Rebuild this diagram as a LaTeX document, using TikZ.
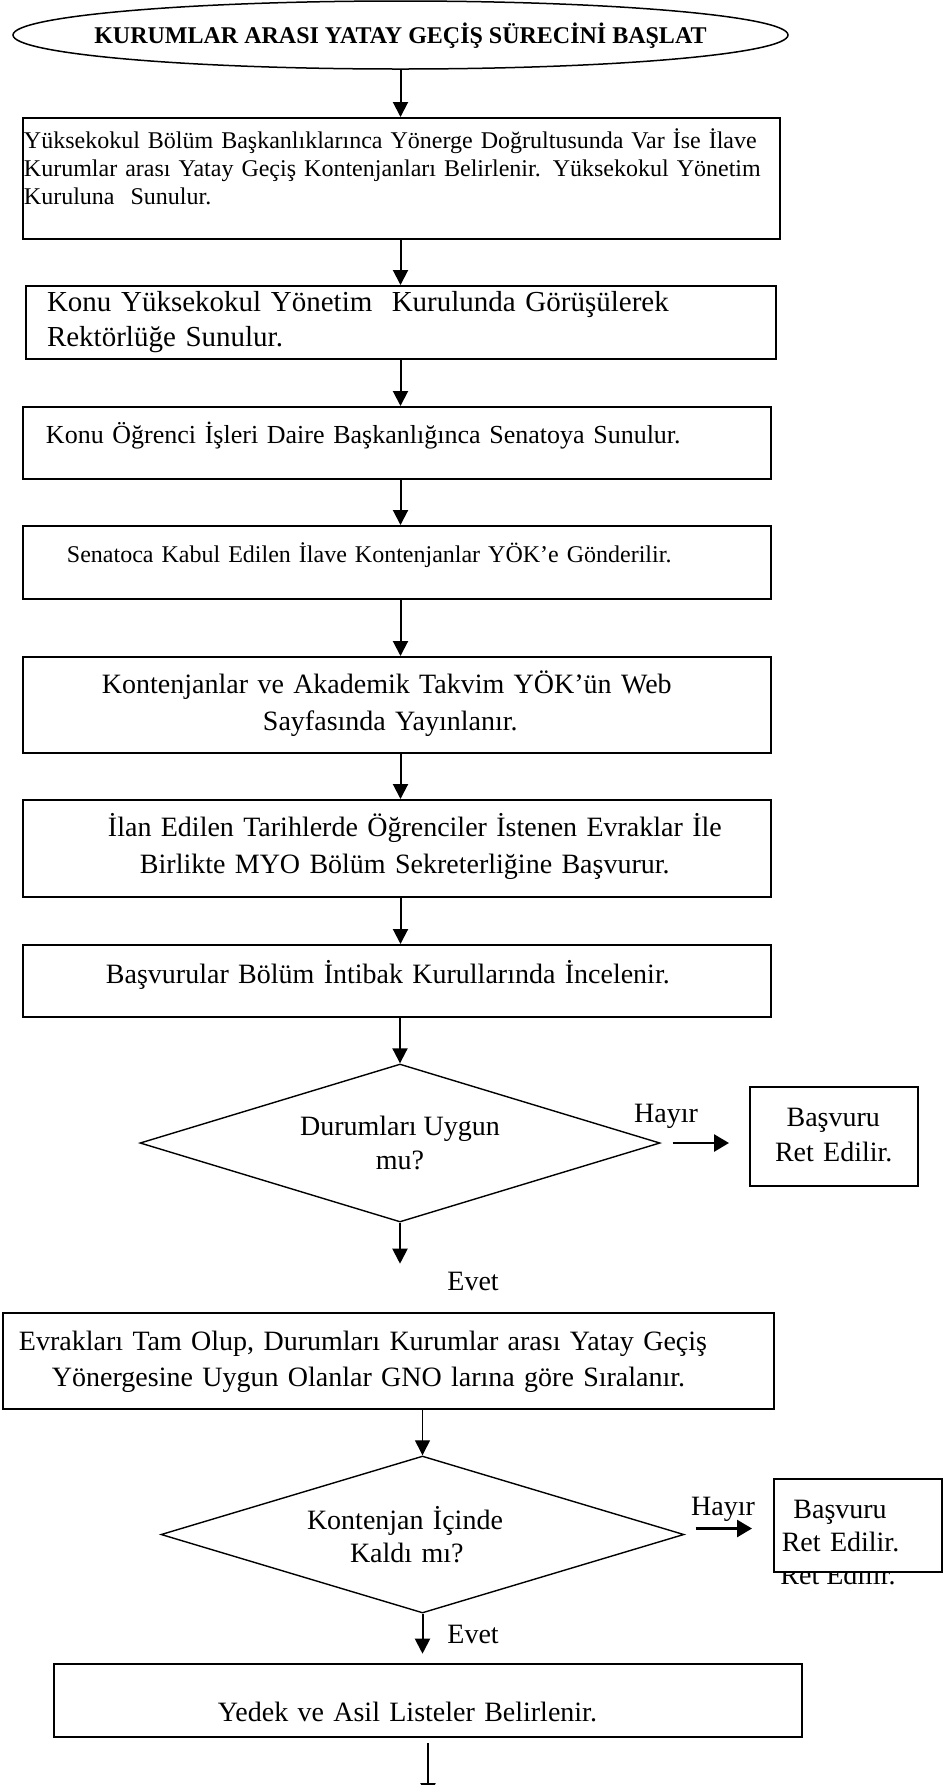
\documentclass[tikz,border=0pt]{standalone}
\usepackage{fontspec}
\setmainfont{Liberation Serif}
\usetikzlibrary{shapes.geometric,arrows.meta,positioning}
\newcommand{\indentby}[1]{\hspace*{#1pt}}
\newcommand{\fs}[2]{\fontsize{#1}{#2}\selectfont}

\begin{document}
\begin{tikzpicture}[x=0.5pt,y=-0.5pt,on grid]

  \tikzset{
    box/.style={draw,rectangle,line width=1pt,inner sep=0pt,align=left,font=\fs{14}{18.5}},
    decision/.style={draw,diamond,aspect=3.3,line width=0.7pt,inner sep=0pt,align=center,font=\fs{14}{17}},
    terminal/.style={draw,ellipse,line width=0.75pt,inner sep=0pt,font=\fs{12}{14}\bfseries},
    flow/.style={-{Triangle[length=7.5pt,width=7.5pt]},line width=1pt},
    reject/.style={-{Triangle[length=7.5pt,width=8.5pt]},line width=1.4pt},
    lbl/.style={inner sep=0pt,font=\fs{14}{17}}
  }
  \useasboundingbox (0,0) rectangle (949,1785);

  \node[terminal,minimum width=387.5pt,minimum height=34pt,text height=8pt,text depth=0pt] (start) at (400.5,35)
    {\makebox[0pt]{KURUMLAR ARASI YATAY GEÇİŞ SÜRECİNİ BAŞLAT}};
  \node[box,font=\fs{12}{14},text width=378.5pt,text height=15pt,text depth=45.5pt]
    (box1) [below=71.75pt of start,xshift=0.5pt]
    {\indentby{0.5}Yüksekokul Bölüm Başkanlıklarınca Yönerge Doğrultusunda Var İse İlave\\
     \indentby{0.5}Kurumlar arası Yatay Geçiş Kontenjanları Belirlenir. Yüksekokul Yönetim\\
     \indentby{0.5}Kuruluna\ \ Sunulur.};
  \node[box,font=\fs{14.5}{17.5},text width=375pt,text height=12.5pt,text depth=24pt]
    (box2) [below=72pt of box1,xshift=-0.25pt]
    {\indentby{10.5}Konu Yüksekokul Yönetim\ \ Kurulunda Görüşülerek\\
     \indentby{10.5}Rektörlüğe Sunulur.};
  \node[box,font=\fs{13}{15},text width=374pt,text height=18pt,text depth=18pt]
    (box3) [below=60.25pt of box2,xshift=-2pt]
    {\indentby{11.5}Konu Öğrenci İşleri Daire Başkanlığınca Senatoya Sunulur.};
  \node[box,font=\fs{12}{14},text width=374pt,text height=18pt,text depth=18.5pt]
    (box4) [below=59.75pt of box3]
    {\indentby{22}Senatoca Kabul Edilen İlave Kontenjanlar YÖK’e Gönderilir.};
  \node[box,text width=374pt,text height=18pt,text depth=30pt]
    (box5) [below=71.25pt of box4]
    {\indentby{39.5}Kontenjanlar ve Akademik Takvim YÖK’ün Web\\
     \indentby{120}Sayfasında Yayınlanır.};
  \node[box,text width=374pt,text height=18pt,text depth=30.5pt]
    (box6) [below=71.75pt of box5]
    {\indentby{42.5}İlan Edilen Tarihlerde Öğrenciler İstenen Evraklar İle\\
     \indentby{58.5}Birlikte MYO Bölüm Sekreterliğine Başvurur.};
  \node[box,text width=374pt,text height=19pt,text depth=17pt]
    (box7) [below=66.25pt of box6]
    {\indentby{41.5}Başvurular Bölüm İntibak Kurullarında İncelenir.};
  \node[decision,minimum width=260pt,minimum height=79pt]
    (d1) [below=81pt of box7,xshift=1.5pt] {Durumları Uygun\\mu?};
  \node[box,font=\fs{14}{17.5},text width=84pt,text height=19.75pt,text depth=29.75pt]
    (rej1) [right=217pt of d1,yshift=3.25pt]
    {\indentby{18.3}Başvuru\\\indentby{12.5}Ret Edilir.};
  \coordinate[below=20.5pt of d1.south] (e1);
  \node[box,font=\fs{14}{18},text width=385.5pt,text height=18.5pt,text depth=29.5pt]
    (box8) [below=109pt of d1,xshift=-5.75pt]
    {\indentby{8}Evrakları Tam Olup, Durumları Kurumlar arası Yatay Geçiş\\
     \indentby{24.5}Yönergesine Uygun Olanlar GNO larına göre Sıralanır.};
  \node[decision,font=\fs{14}{16.5},align=left,text width=115.5pt,minimum width=261.5pt,minimum height=78.5pt]
    (d2) [below=86.75pt of box8,xshift=17pt] {Kontenjan İçinde\\\indentby{21.5}Kaldı mı?};
  \node[lbl,anchor=base west] (ghost) at (780,1584) {Ret Edilir.};
  \node[box,fill=white,font=\fs{14}{16.5},text width=84pt,text height=19.75pt,text depth=26.75pt]
    (rej2) [right=217.75pt of d2,yshift=4.5pt]
    {\indentby{9.7}Başvuru\\\indentby{3.9}Ret Edilir.};
  \coordinate[below=20pt of d2.south] (e2);
  \node[box,text width=374pt,text height=28.5pt,text depth=8pt]
    (box9) [below=83pt of d2,xshift=2.75pt]
    {\indentby{82}Yedek ve Asil Listeler Belirlenir.};
  \coordinate[below=30pt of box9.south] (e3);

  % labels
  \node[lbl,anchor=base west] (no1) at ([xshift=-13.5pt,yshift=10.5pt]d1.east) {Hayır};
  \node[lbl,anchor=base west] (no2) at ([xshift=3pt,yshift=9.75pt]d2.east) {Hayır};
  \node[lbl,anchor=base west] (yes1) at ([xshift=23.5pt,yshift=-13.5pt]e1) {Evet};
  \node[lbl,anchor=base west] (yes2) at ([xshift=12.25pt,yshift=5pt]e2) {Evet};

  % arrows
  \draw[flow] (start.south) -- (start.south |- box1.north);
  \draw[flow] (box1.south -| start) -- (box2.north -| start);
  \draw[flow] (box2.south -| start) -- (box3.north -| start);
  \draw[flow] (box3.south -| start) -- (box4.north -| start);
  \draw[flow] (box4.south -| start) -- (box5.north -| start);
  \draw[flow] (box5.south -| start) -- (box6.north -| start);
  \draw[flow] (box6.south -| start) -- (box7.north -| start);
  \draw[flow] (box7.south -| d1) -- (d1.north);
  \draw[flow] (d1.south) -- (e1);
  \draw[reject,shorten <=6pt,shorten >=10pt] (d1.east) -- (d1.east -| rej1.west);
  \draw[flow,line width=0.6pt] (box8.south -| d2) -- (d2.north);
  \draw[reject,shorten <=5.5pt,shorten >=10.5pt] ([yshift=3pt]d2.east) -- ([yshift=3pt]d2.east -| rej2.west);
  \draw[flow] (d2.south) -- (e2);
  \draw[flow,shorten <=2.5pt] (box9.south -| e3) -- (e3);
\end{tikzpicture}
\end{document}
